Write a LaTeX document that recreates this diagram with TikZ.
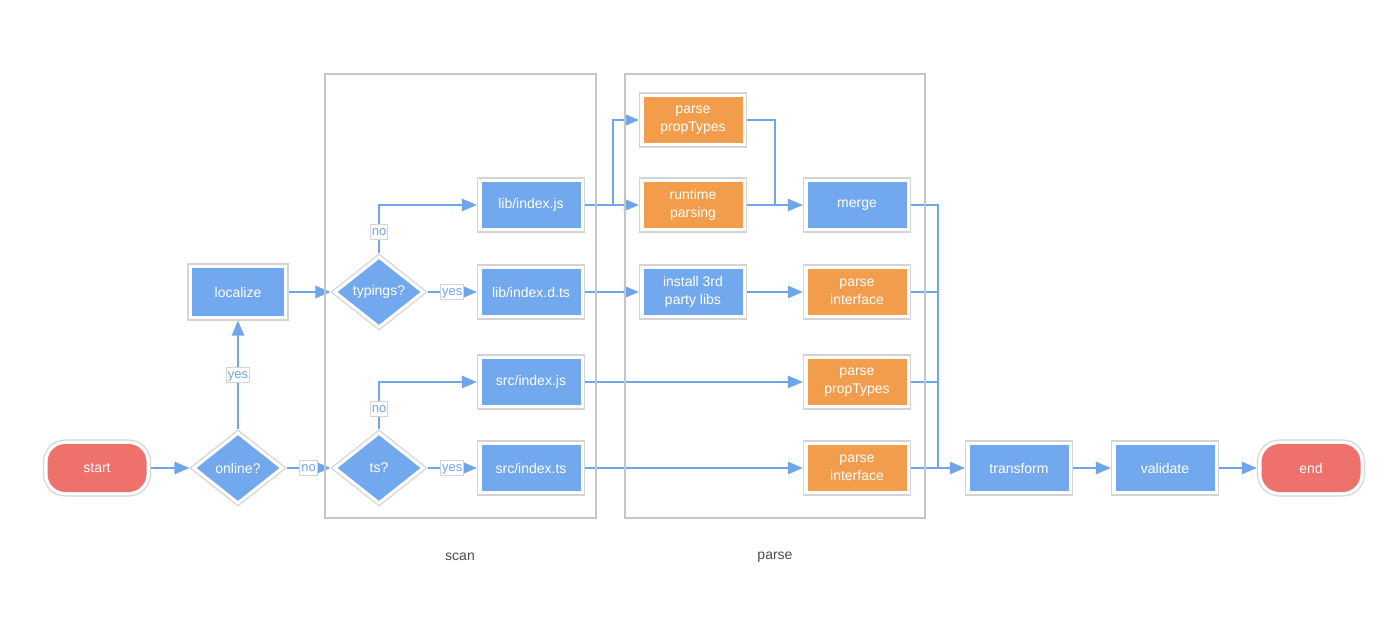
\documentclass[tikz,border=0pt]{standalone}
\usepackage{fontspec}
\setmainfont{Liberation Sans}
\usetikzlibrary{arrows.meta, positioning, shapes.geometric}
\definecolor{boxblue}{HTML}{72A9EE}
\definecolor{boxorange}{HTML}{F29D4B}
\definecolor{termred}{HTML}{EE716B}
\definecolor{flowblue}{HTML}{6FA6E9}
\definecolor{framegray}{HTML}{D4D4D4}
\definecolor{stagegray}{HTML}{C6C6C6}

\begin{document}
\begin{tikzpicture}[x=1pt,y=-1pt]
\tikzset{
  frame/.style={draw=framegray, line width=1.1pt, fill=white,
    text=white, font=\fontsize{14}{17.5}\selectfont, align=center, inner sep=0pt},
  box/.style={frame, rectangle, minimum width=107pt, minimum height=54pt,
    path picture={\fill[#1] ([shift={(4pt,-4pt)}]path picture bounding box.north west)
      rectangle ([shift={(-4pt,4pt)}]path picture bounding box.south east);}},
  box/.default=boxblue,
  term/.style={frame, rectangle, rounded corners=22pt, minimum width=107pt, minimum height=56pt,
    path picture={\fill[termred, rounded corners=18pt] ([shift={(4pt,-4pt)}]path picture bounding box.north west)
      rectangle ([shift={(-4pt,4pt)}]path picture bounding box.south east);}},
  decide/.style={frame, diamond, minimum width=96pt, minimum height=76pt,
    path picture={\fill[boxblue] ([yshift=-5pt]path picture bounding box.north)
      -- ([xshift=-6.4pt]path picture bounding box.east) -- ([yshift=5pt]path picture bounding box.south)
      -- ([xshift=6.4pt]path picture bounding box.west) -- cycle;}},
  link/.style={draw=flowblue, line width=2.4pt},
  flow/.style={link, -{Triangle[length=15pt,width=12pt]}},
  lbl/.style={font=\fontsize{13}{13}\selectfont, text=flowblue, fill=white, draw=framegray, line width=0.8pt,
    inner sep=1.5pt, text height=9.5pt, text depth=2.5pt},
  stage/.style={draw=stagegray, line width=2.8pt},
  stagelbl/.style={font=\fontsize{14}{16}\selectfont, text=black!70}
}

\fill[white] (0,0) rectangle (1390,632);

\node[term] (start) at (97,468) {start};
\node[decide] (online) at (238,468) {online?};
\node[box, minimum width=100pt, minimum height=56pt] (localize) at (238,292) {localize};
\node[decide] (typings) at (379,292) {typings?};
\node[decide] (ts) at (379,468) {ts?};

\node[box] (libjs) at (531,205) {lib/index.js};
\node[box] (libdts) at (531,292) {lib/index.d.ts};
\node[box] (srcjs) at (531,382) {src/index.js};
\node[box] (srcts) at (531,468) {src/index.ts};

\node[box=boxorange] (proptypes) at (693,120) {parse\\propTypes};
\node[box=boxorange] (runtime) at (693,205) {runtime\\parsing};
\node[box] (install) at (693,292) {install 3rd\\party libs};
\node[box] (merge) at (857,205) {merge};
\node[box=boxorange] (iface) at (857,292) {parse\\interface};
\node[box=boxorange] (srcprop) at (857,382) {parse\\propTypes};
\node[box=boxorange] (srciface) at (857,468) {parse\\interface};

\node[box] (transform) at (1019,468) {transform};
\node[box] (validate) at (1165,468) {validate};
\node[term] (end) at (1311,468) {end};

\coordinate (split) at (613,205);
\coordinate (join) at (775,205);
\coordinate (bus) at (938,468);

\draw[flow] (start) -- (online);
\draw[flow] (online) -- node[lbl]{yes} (localize);
\draw[flow] (online) -- node[lbl]{no} (ts);
\draw[flow] (localize) -- (typings);
\draw[flow] (typings.north) |- node[lbl,pos=0.22]{no} (libjs);
\draw[flow] (typings) -- node[lbl]{yes} (libdts);
\draw[flow] (ts.north) |- node[lbl,pos=0.22]{no} (srcjs);
\draw[flow] (ts) -- node[lbl]{yes} (srcts);

\draw[flow] (libjs) -- (runtime);
\draw[flow] (split) |- (proptypes);
\draw[link] (proptypes) -| (join);
\draw[flow] (runtime) -- (merge);
\draw[flow] (libdts) -- (install);
\draw[flow] (install) -- (iface);
\draw[flow] (srcjs) -- (srcprop);
\draw[flow] (srcts) -- (srciface);

\draw[link] (merge) -| (bus);
\draw[link] (iface) -| (bus);
\draw[link] (srcprop) -| (bus);
\draw[flow] (srciface) -- (transform);
\draw[flow] (transform) -- (validate);
\draw[flow] (validate) -- (end);

\draw[stage] (325,74) rectangle (596,518);
\draw[stage] (625,74) rectangle (925,518);
\node[stagelbl] (scanlbl) at (460,557) {scan};
\node[stagelbl] (parselbl) at (775,557) {parse};
\end{tikzpicture}
\end{document}
